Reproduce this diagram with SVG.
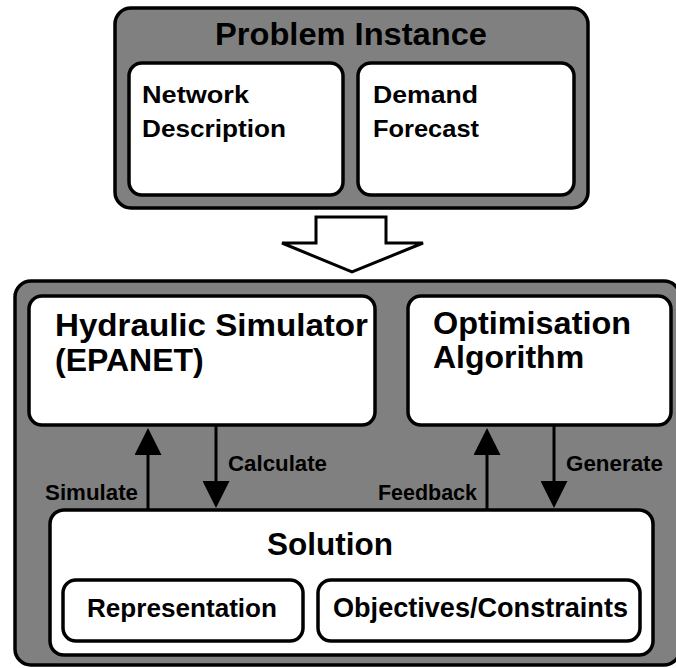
<svg xmlns="http://www.w3.org/2000/svg" width="676" height="668" viewBox="0 0 676 668">
<defs>
<style>
.outer{fill:#808080;stroke:#000;stroke-width:3.5}
.box{fill:#fff;stroke:#000;stroke-width:3.5}
text{font-family:"Liberation Sans",Arial,sans-serif;font-weight:bold;fill:#000}
.lbl{font-size:22px}
.conn{stroke:#000;stroke-width:3;fill:none}
</style>
<marker id="ah" viewBox="0 0 27 27" refX="3" refY="13.5" markerWidth="27" markerHeight="27" markerUnits="userSpaceOnUse" orient="auto">
<path d="M0,0 L27,13.5 L0,27 z" fill="#000"/>
</marker>
</defs>

<g id="problem-instance">
<rect class="outer" x="115" y="8" width="473" height="200" rx="16"/>
<text x="215" y="45" font-size="31" textLength="272" lengthAdjust="spacingAndGlyphs">Problem Instance</text>
</g>
<g id="network-description">
<rect class="box" x="129" y="63" width="214" height="132" rx="13"/>
<text x="142" y="103" font-size="24" textLength="107" lengthAdjust="spacingAndGlyphs">Network</text>
<text x="142" y="137" font-size="24" textLength="144" lengthAdjust="spacingAndGlyphs">Description</text>
</g>
<g id="demand-forecast">
<rect class="box" x="358" y="63" width="216" height="132" rx="13"/>
<text x="373" y="103" font-size="24" textLength="105" lengthAdjust="spacingAndGlyphs">Demand</text>
<text x="373" y="137" font-size="24" textLength="106" lengthAdjust="spacingAndGlyphs">Forecast</text>
</g>

<g id="flow-arrow">
<polygon points="316,217 386,217 386,243 423,243 352,272 282,243 316,243" fill="#fff" stroke="#000" stroke-width="3" stroke-linejoin="miter"/>
</g>

<g id="framework">
<rect class="outer" x="15" y="281" width="665" height="384" rx="16"/>
</g>
<g id="hydraulic-simulator">
<rect class="box" x="29" y="296" width="346" height="129" rx="13"/>
<text x="55" y="336" font-size="32" textLength="313" lengthAdjust="spacingAndGlyphs">Hydraulic Simulator</text>
<text x="55" y="371" font-size="32">(EPANET)</text>
</g>
<g id="optimisation-algorithm">
<rect class="box" x="408" y="296" width="263" height="129" rx="13"/>
<text x="433" y="334" font-size="32" textLength="198" lengthAdjust="spacingAndGlyphs">Optimisation</text>
<text x="433" y="368" font-size="32">Algorithm</text>
</g>
<g id="solution">
<rect class="box" x="50" y="510" width="603" height="145" rx="14"/>
<text x="267" y="555" font-size="31" textLength="126" lengthAdjust="spacingAndGlyphs">Solution</text>
</g>
<g id="representation">
<rect class="box" x="63" y="580" width="240" height="61" rx="13"/>
<text x="87" y="617" font-size="26" textLength="190" lengthAdjust="spacingAndGlyphs">Representation</text>
</g>
<g id="objectives-constraints">
<rect class="box" x="318" y="580" width="322" height="61" rx="13"/>
<text x="333" y="617" font-size="27" textLength="295" lengthAdjust="spacingAndGlyphs">Objectives/Constraints</text>
</g>

<g id="connectors">
<line class="conn" x1="148" y1="510" x2="148" y2="452" marker-end="url(#ah)"/>
<line class="conn" x1="216" y1="425" x2="216" y2="484" marker-end="url(#ah)"/>
<line class="conn" x1="487" y1="510" x2="487" y2="452" marker-end="url(#ah)"/>
<line class="conn" x1="554" y1="425" x2="554" y2="484" marker-end="url(#ah)"/>
<text class="lbl" x="45" y="500" textLength="93" lengthAdjust="spacingAndGlyphs">Simulate</text>
<text class="lbl" x="228" y="471" textLength="99" lengthAdjust="spacingAndGlyphs">Calculate</text>
<text class="lbl" x="378" y="500" textLength="99" lengthAdjust="spacingAndGlyphs">Feedback</text>
<text class="lbl" x="566" y="471" textLength="97" lengthAdjust="spacingAndGlyphs">Generate</text>
</g>
</svg>
